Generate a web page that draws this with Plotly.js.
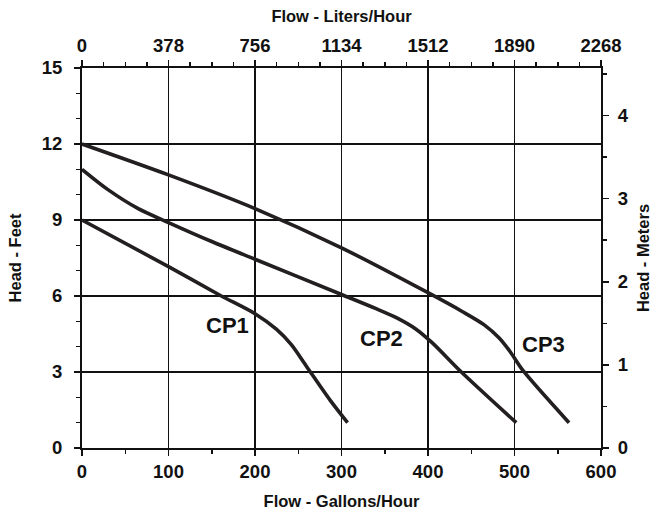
<!DOCTYPE html>
<html>
<head>
<meta charset="utf-8">
<script src="https://cdn.plot.ly/plotly-3.0.1.min.js"></script>
<style>html,body{margin:0;padding:0;background:#fff;}#chart{width:670px;height:514px;}</style>
</head>
<body>
<div id="chart"></div>
<script>
// Flow in gallons/hour, head in feet
const cp1Flow = [0, 100, 160, 200, 225, 242, 260, 287, 307];
const cp1Head = [9, 7.16, 6.02, 5.3, 4.68, 4.08, 3.2, 1.88, 1.0];

const cp2Flow = [0, 30, 65, 100, 150, 200, 300, 340, 365, 385, 405, 437, 502];
const cp2Head = [11, 10.2, 9.45, 8.9, 8.15, 7.45, 6.06, 5.5, 5.12, 4.72, 4.15, 3.05, 1.0];

const cp3Flow = [0, 100, 200, 300, 400, 440, 465, 482, 495, 510, 563];
const cp3Head = [12, 10.78, 9.45, 7.9, 6.13, 5.38, 4.86, 4.35, 3.8, 3.05, 1.0];

const curveNames = ["CP1", "CP2", "CP3"];
const labelFlow = [168, 346, 534];
const labelHead = [4.85, 4.31, 4.08];

const galTicks = [0, 100, 200, 300, 400, 500, 600];
const literTicks = [0, 378, 756, 1134, 1512, 1890, 2268];
const feetTicks = [0, 3, 6, 9, 12, 15];
const meterTicks = [0, 1, 2, 3, 4];
const galMax = 600, literMax = 2268, feetMax = 15, metersMax = 15 / 3.28084;

const lineColor = "#231f20";
const fontFam = "Liberation Sans, Arial, Helvetica, sans-serif";
const tickFont = {family: fontFam, size: 18.5, color: "#111", weight: "bold"};
const titleFont = {family: fontFam, size: 16.5, color: "#111", weight: "bold"};

function curve(x, y) {
  return {x: x, y: y, type: "scatter", mode: "lines",
    line: {color: lineColor, width: 3.6, shape: "spline", smoothing: 0.8},
    hoverinfo: "skip", showlegend: false, xaxis: "x", yaxis: "y"};
}

const traces = [
  curve(cp1Flow, cp1Head),
  curve(cp2Flow, cp2Head),
  curve(cp3Flow, cp3Head),
  {x: [0, literMax], y: [0, metersMax], type: "scatter", mode: "markers",
   marker: {opacity: 0}, hoverinfo: "skip", showlegend: false, xaxis: "x2", yaxis: "y2"}
];

const common = {
  showline: true, linecolor: "#111", linewidth: 2, zeroline: false,
  ticks: "outside", ticklen: 6, tickwidth: 1.5, tickcolor: "#111",
  tickfont: tickFont, fixedrange: true
};

const layout = {
  width: 670, height: 514,
  margin: {l: 82, r: 69, t: 68, b: 66},
  paper_bgcolor: "#fff", plot_bgcolor: "#fff",
  showlegend: false,
  xaxis: Object.assign({}, common, {
    range: [0, galMax], tickmode: "array", tickvals: galTicks, ticktext: galTicks.map(String),
    showgrid: true, gridcolor: "#111", gridwidth: 1.7,
    minor: {dtick: 50, ticklen: 4, tickwidth: 1.5, tickcolor: "#111", ticks: "outside", showgrid: false},
    title: {text: "Flow - Gallons/Hour", font: titleFont, standoff: 14},
    ticklabelstandoff: 0
  }),
  xaxis2: Object.assign({}, common, {
    overlaying: "x", side: "top", anchor: "y",
    range: [0, literMax], tickmode: "array", tickvals: literTicks, ticktext: literTicks.map(String),
    showgrid: false,
    minor: {dtick: 94.5, ticklen: 4, tickwidth: 1.5, tickcolor: "#111", ticks: "outside", showgrid: false},
    title: {text: "Flow - Liters/Hour", font: titleFont, standoff: 8},
    ticklabelstandoff: 1
  }),
  yaxis: Object.assign({}, common, {
    range: [0, feetMax], tickmode: "array", tickvals: feetTicks, ticktext: feetTicks.map(String),
    showgrid: true, gridcolor: "#111", gridwidth: 1.7,
    minor: {dtick: 1, ticklen: 4, tickwidth: 1.5, tickcolor: "#111", ticks: "outside", showgrid: false},
    title: {text: "Head - Feet", font: titleFont, standoff: 16},
    ticklabelstandoff: 8
  }),
  yaxis2: Object.assign({}, common, {
    overlaying: "y", side: "right", anchor: "x",
    range: [0, metersMax], tickmode: "array", tickvals: meterTicks, ticktext: meterTicks.map(String),
    showgrid: false,
    minor: {dtick: 0.5, ticklen: 4, tickwidth: 1.5, tickcolor: "#111", ticks: "outside", showgrid: false},
    title: {text: "Head - Meters", font: titleFont, standoff: 10},
    ticklabelstandoff: 5
  }),
  annotations: curveNames.map((n, i) => ({
    x: labelFlow[i], y: labelHead[i], xref: "x", yref: "y", text: n, showarrow: false,
    font: {family: fontFam, size: 22, color: "#111", weight: "bold"}
  }))
};

Plotly.newPlot("chart", traces, layout, {staticPlot: true, displayModeBar: false});
</script>
</body>
</html>
